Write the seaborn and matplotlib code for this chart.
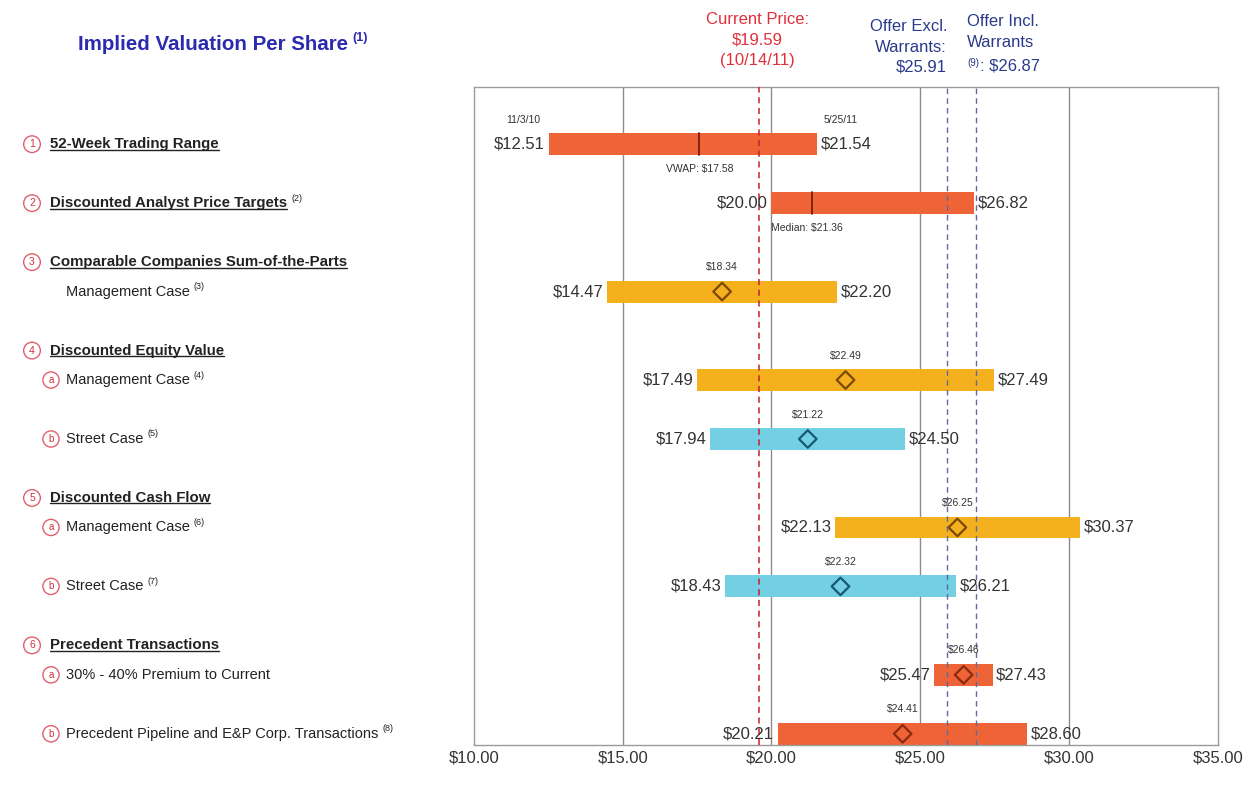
import numpy as np
import pandas as pd
import matplotlib
matplotlib.use("Agg")
import matplotlib.pyplot as plt
import matplotlib.transforms as mtrans
from matplotlib.lines import Line2D
import seaborn as sns

# ---------------- data ----------------
row_pos = [0, 1, 2.5, 4, 5, 6.5, 7.5, 9, 10]
lows = [12.51, 20.00, 14.47, 17.49, 17.94, 22.13, 18.43, 25.47, 20.21]
highs = [21.54, 26.82, 22.20, 27.49, 24.50, 30.37, 26.21, 27.43, 28.60]
mids = [np.nan, np.nan, 18.34, 22.49, 21.22, 26.25, 22.32, 26.46, 24.41]
kinds = ["market", "market", "mgmt", "mgmt", "street", "mgmt", "street", "prec", "prec"]

vwap = 17.58
median_target = 21.36
range_dates = ["11/3/10", "5/25/11"]

current_price = 19.59
offer_excl = 25.91
offer_incl = 26.87

x_ticks = [10, 15, 20, 25, 30, 35]

headers = [
    ("1", "52-Week Trading Range", "", 0),
    ("2", "Discounted Analyst Price Targets", "(2)", 1),
    ("3", "Comparable Companies Sum-of-the-Parts", "", 2.0),
    ("4", "Discounted Equity Value", "", 3.5),
    ("5", "Discounted Cash Flow", "", 6.0),
    ("6", "Precedent Transactions", "", 8.5),
]
subitems = [
    ("", "Management Case", "(3)", 2.5),
    ("a", "Management Case", "(4)", 4),
    ("b", "Street Case", "(5)", 5),
    ("a", "Management Case", "(6)", 6.5),
    ("b", "Street Case", "(7)", 7.5),
    ("a", "30% - 40% Premium to Current", "", 9),
    ("b", "Precedent Pipeline and E&P Corp. Transactions", "(8)", 10),
]

# ---------------- style ----------------
sns.set_theme(style="white")
plt.rcParams["font.family"] = ["Liberation Sans", "DejaVu Sans"]

bar_col = {"market": "#EF6436", "prec": "#EF6436", "mgmt": "#F5B01E", "street": "#72CFE4"}
dia_col = {"market": "#7A2E10", "prec": "#8A2A10", "mgmt": "#7A4A00", "street": "#155A72"}
txt_col = "#333333"

fig = plt.figure(figsize=(12.48, 7.98), dpi=100)
ax = fig.add_axes([474 / 1248, 1 - 745 / 798, (1217.7 - 474) / 1248, (745 - 87) / 798])

df = pd.DataFrame({"pos": row_pos, "low": lows, "high": highs, "mid": mids, "kind": kinds})

# grid
for t in x_ticks[1:-1]:
    ax.axvline(t, color="#8C8C8C", lw=1.0, zorder=1)

# floating bars
bh = 0.37
ax.barh(df["pos"], df["high"] - df["low"], left=df["low"], height=bh,
        color=[bar_col[k] for k in df["kind"]], edgecolor="none", zorder=2)

# reference lines
ax.axvline(current_price, color="#C8202E", lw=1.1, ls=(0, (4, 3)), zorder=4)
ax.axvline(offer_excl, color="#5D6C9E", lw=1.0, ls=(0, (4, 3)), zorder=4)
ax.axvline(offer_incl, color="#5D6C9E", lw=1.0, ls=(0, (4, 3)), zorder=4)

# diamonds
dm = df.dropna(subset=["mid"])
sns.scatterplot(x=dm["mid"], y=dm["pos"], marker="D", s=80, facecolor="none",
                edgecolor=[dia_col[k] for k in dm["kind"]], linewidth=1.6,
                ax=ax, zorder=5, legend=False)
for _, r in dm.iterrows():
    ax.text(r["mid"], r["pos"] - 0.33, f"${r['mid']:.2f}", ha="center", va="bottom",
            fontsize=7.5, color=txt_col, zorder=6)

# vwap / median ticks
ax.plot([vwap, vwap], [row_pos[0] - bh / 2, row_pos[0] + bh / 2], color="#7A1E0A", lw=1.3, zorder=5)
ax.plot([median_target, median_target], [row_pos[1] - bh / 2, row_pos[1] + bh / 2], color="#7A1E0A", lw=1.3, zorder=5)
ax.text(vwap, row_pos[0] + 0.33, f"VWAP: ${vwap:.2f}", ha="center", va="top", fontsize=7.5, color=txt_col)
ax.text(df["low"][1], row_pos[1] + 0.33, f"Median: ${median_target:.2f}", ha="left", va="top",
        fontsize=7.5, color=txt_col)
ax.text(lows[0] - 0.85, row_pos[0] - 0.33, range_dates[0], ha="center", va="bottom", fontsize=7.5, color=txt_col)
ax.text(highs[0] + 0.8, row_pos[0] - 0.33, range_dates[1], ha="center", va="bottom", fontsize=7.5, color=txt_col)

# value labels
for _, r in df.iterrows():
    ax.text(r["low"] - 0.12, r["pos"], f"${r['low']:.2f}", ha="right", va="center",
            fontsize=12, color=txt_col, zorder=6)
    ax.text(r["high"] + 0.12, r["pos"], f"${r['high']:.2f}", ha="left", va="center",
            fontsize=12, color=txt_col, zorder=6)

ax.set_xlim(10, 35)
ax.set_ylim(10.19, -0.97)
ax.set_xticks(x_ticks)
ax.set_xticklabels([f"${t:.2f}" for t in x_ticks], fontsize=12, color=txt_col)
ax.set_yticks([])
ax.set_xlabel("")
ax.set_ylabel("")
ax.tick_params(axis="x", length=0, pad=4)
for s in ax.spines.values():
    s.set_color("#9A9A9A")
    s.set_linewidth(1.0)

# header annotations
fig.text(757 / 1248, 1 - 40 / 798, f"Current Price:\n${current_price:.2f}\n(10/14/11)",
         ha="center", va="center", fontsize=12, color="#E0303A", linespacing=1.45)
fig.text(947 / 1248, 1 - 47 / 798, f"Offer Excl.\nWarrants:\n${offer_excl:.2f}",
         ha="right", va="center", fontsize=12, color="#2A3A8A", linespacing=1.45)
fig.text(967 / 1248, 1 - 32 / 798, "Offer Incl.\nWarrants",
         ha="left", va="center", fontsize=12, color="#2A3A8A", linespacing=1.45)
fig.text(967 / 1248, 1 - 63 / 798, "(9)", ha="left", va="center", fontsize=7, color="#2A3A8A")
fig.text(980 / 1248, 1 - 66 / 798, f": ${offer_incl:.2f}", ha="left", va="center",
         fontsize=12, color="#2A3A8A")

title = fig.text(78 / 1248, 1 - 44 / 798, "Implied Valuation Per Share", ha="left", va="center",
                 fontsize=14.8, fontweight="bold", color="#2B2BB0")

# left labels
blend = mtrans.blended_transform_factory(fig.transFigure, ax.transData)
circ = dict(boxstyle="circle,pad=0.32", fc="white", ec="#E06070", lw=1.0)
sup_jobs = []   # (text artist, superscript, underline, colour)
for num, label, sup, y in headers:
    ax.text(32 / 1248, y, num, transform=blend, ha="center", va="center", fontsize=7.5,
            color="#D03040", bbox=circ, clip_on=False)
    t = ax.text(50 / 1248, y, label, transform=blend, ha="left", va="center", fontsize=10.8,
                fontweight="bold", color="#222222", clip_on=False)
    sup_jobs.append((t, sup, True, "#222222"))
for letter, label, sup, y in subitems:
    if letter:
        ax.text(51 / 1248, y, letter, transform=blend, ha="center", va="center", fontsize=7,
                color="#D03040", bbox=circ, clip_on=False)
    t = ax.text(66 / 1248, y, label, transform=blend, ha="left", va="center", fontsize=10.5,
                color="#222222", clip_on=False)
    sup_jobs.append((t, sup, False, "#222222"))
sup_jobs.append((title, "(1)", False, "#2B2BB0"))

fig.canvas.draw()
renderer = fig.canvas.get_renderer()
inv = fig.transFigure.inverted()
for t, sup, underline, col in sup_jobs:
    bb = t.get_window_extent(renderer)
    (x0, y0), (x1, y1) = inv.transform([[bb.x0, bb.y0], [bb.x1, bb.y1]])
    if underline:
        fig.add_artist(Line2D([x0, x1], [y0 + 0.002, y0 + 0.002], transform=fig.transFigure,
                              color="#222222", lw=1.0))
    if sup:
        is_title = t is title
        fs = 9 if is_title else 6.5
        yc = (y0 + y1) / 2 + (6 if is_title else 5) / 798
        fig.text(x1 + 4 / 1248, yc, sup, ha="left", va="center", fontsize=fs,
                 color=col, fontweight="bold" if is_title else "normal")

fig.savefig("out.png", dpi=100, facecolor="white")
